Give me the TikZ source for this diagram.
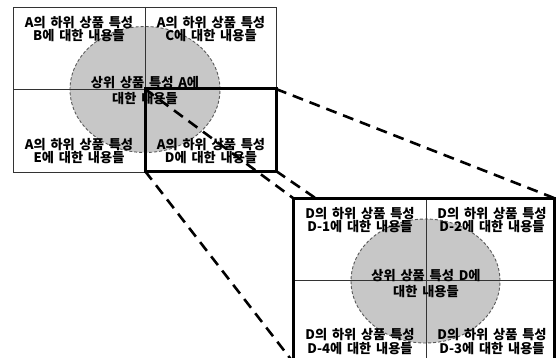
\documentclass[tikz,border=0pt]{standalone}
\usepackage{fontspec}
\setmainfont{Noto Sans CJK KR}[WordSpace=1.6]
\usetikzlibrary{shapes.geometric}
\begin{document}
\begin{tikzpicture}[x=1pt,y=-1pt,
  gridline/.style={line width=0.8pt, draw=black!80},
  heavy/.style={draw=black, line width=3pt, inner sep=0pt, outer sep=0pt},
  zoomline/.style={draw=black, line width=2.6pt, dash pattern=on 11pt off 7pt},
  blob/.style={ellipse, fill=black!22, draw=black!65, line width=0.9pt, dash pattern=on 3pt off 2pt, inner sep=0pt, outer sep=0pt},
  lbl/.style={align=center, font=\fontsize{13.2}{13.5}\selectfont\bfseries, inner sep=0pt},
  clbl/.style={align=center, font=\fontsize{13.2}{15.5}\selectfont\bfseries, inner sep=0pt}]
\useasboundingbox (0,0) rectangle (556,358);
\clip (0,0) rectangle (556,358);
% upper picture
\node[blob, minimum width=150pt, minimum height=126pt] (ca) at (145,89.5) {};
\draw[gridline] (13,7) rectangle (276,172);
\draw[gridline] (145,7) -- (145,172);
\draw[gridline] (13,89) -- (276,89);
\node[clbl] (ta) at (145,90.5) {상위 상품 특성 A에\\대한 내용들};
\node[lbl] (tb) at (79,29) {A의 하위 상품 특성\\B에 대한 내용들};
\node[lbl] (tc) at (211,29) {A의 하위 상품 특성\\C에 대한 내용들};
\node[lbl] (te) at (79,151) {A의 하위 상품 특성\\E에 대한 내용들};
\node[lbl] (td) at (211,151) {A의 하위 상품 특성\\D에 대한 내용들};
\node[heavy, minimum width=131pt, minimum height=82pt] (zs) at (210.5,130) {};
% zoom lines
\draw[zoomline] (zs.north west) -- (293,198) coordinate (bnw);
\draw[zoomline] (zs.north east) -- (554,198) coordinate (bne);
\draw[zoomline] (zs.south west) -- (293,362) coordinate (bsw);
\draw[zoomline] (zs.south east) -- (554,362) coordinate (bse);
% lower picture
\node[heavy, fill=white, minimum width=261pt, minimum height=164pt] (zb) at (423.5,280) {};
\node[blob, minimum width=149pt, minimum height=124pt] (cd) at (425.5,281) {};
\draw[gridline] (426,198) -- (426,362);
\draw[gridline] (293,280) -- (554,280);
\node[clbl] (tdc) at (426,283.5) {상위 상품 특성 D에\\대한 내용들};
\node[lbl] (d1) at (360,220) {D의 하위 상품 특성\\D-1에 대한 내용들};
\node[lbl] (d2) at (492,220) {D의 하위 상품 특성\\D-2에 대한 내용들};
\node[lbl] (d4) at (360,341.5) {D의 하위 상품 특성\\D-4에 대한 내용들};
\node[lbl] (d3) at (492,341.5) {D의 하위 상품 특성\\D-3에 대한 내용들};
\draw[heavy] (zb.north west) rectangle (zb.south east);
\end{tikzpicture}
\end{document}
